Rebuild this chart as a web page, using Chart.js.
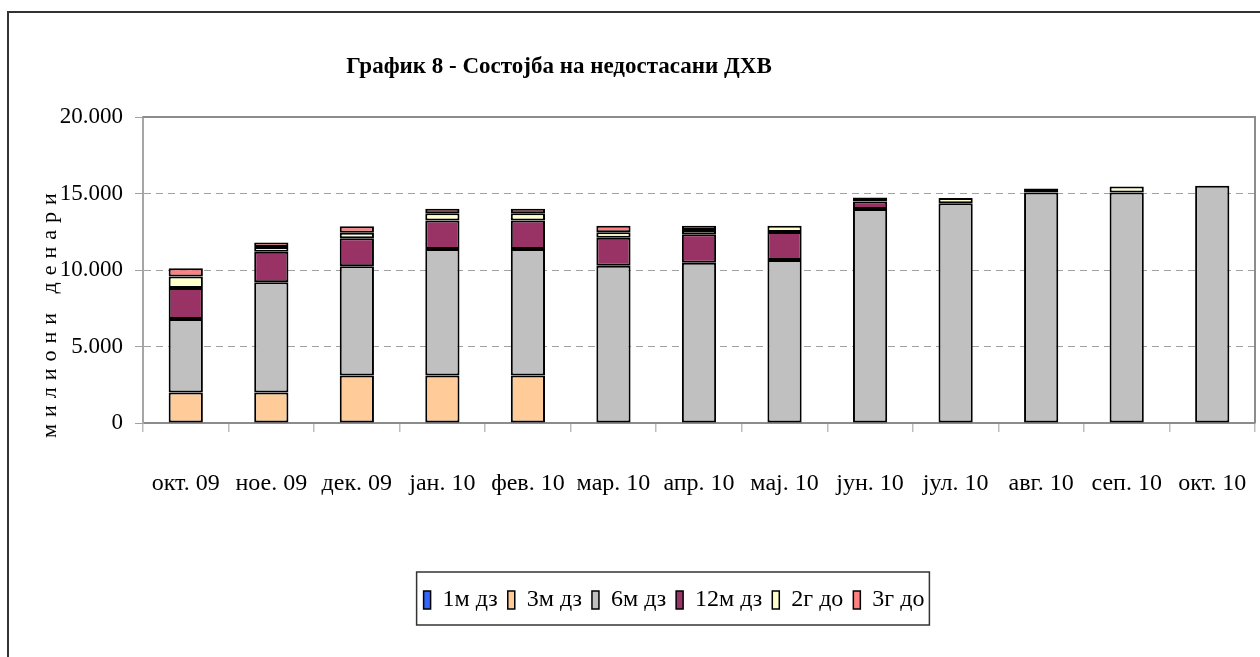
<!DOCTYPE html>
<html>
<head>
<meta charset="utf-8">
<script src="https://cdn.jsdelivr.net/npm/chart.js@4.4.1/dist/chart.umd.min.js"></script>
<style>
  html, body { margin: 0; padding: 0; background: #fff; }
  #wrap { position: relative; width: 1260px; height: 657px; }
</style>
</head>
<body>
<div id="wrap"><canvas id="c" width="1260" height="657"></canvas></div>
<script>
const categories = ['окт. 09','ное. 09','дек. 09','јан. 10','фев. 10','мар. 10','апр. 10','мај. 10','јун. 10','јул. 10','авг. 10','сеп. 10','окт. 10'];
const m1 = [0,0,0,0,0,0,0,0,0,0,0,0,0];
const m3 = [2000,2000,3100,3100,3100,0,0,0,0,0,0,0,0];
const m6 = [4800,7200,7150,8280,8280,10280,10480,10660,13980,14370,15060,15060,15500];
const m12 = [2030,2000,1830,1850,1850,1830,1860,1830,490,0,0,0,0];
const g2 = [740,300,350,480,480,350,280,410,0,330,0,390,0];
const g3 = [550,300,430,290,290,430,280,0,270,0,260,0,0];
const seriesNames = ['1м дз','3м дз','6м дз','12м дз','2г до','3г до'];
const yTicks = [0,5000,10000,15000,20000];
const titleText = 'График 8 - Состојба на недостасани ДХВ';
const yTitle = 'милиони денари';

const colors = ['#3366FF','#FFCC99','#C0C0C0','#993366','#FFFFCC','#FF8080'];
const seriesData = [m1,m3,m6,m12,g2,g3];

const fmt = v => v === 0 ? '0' : v.toLocaleString('de-DE');

const decor = {
  id: 'decor',
  beforeDraw(chart) {
    const ctx = chart.ctx;
    ctx.save();
    ctx.fillStyle = '#fff';
    ctx.fillRect(0,0,chart.width,chart.height);
    ctx.restore();
  },
  afterDraw(chart) {
    const ctx = chart.ctx;
    const a = chart.chartArea;
    ctx.save();
    // outer frame
    ctx.strokeStyle = '#333';
    ctx.lineWidth = 2;
    ctx.beginPath();
    ctx.moveTo(8, 700);
    ctx.lineTo(8, 12);
    ctx.lineTo(1262, 12);
    ctx.stroke();
    // plot border (top and right)
    ctx.strokeStyle = '#8c8c8c';
    ctx.lineWidth = 2;
    ctx.beginPath();
    ctx.moveTo(a.left, a.top);
    ctx.lineTo(a.right, a.top);
    ctx.lineTo(a.right, a.bottom);
    ctx.stroke();
    // title
    ctx.fillStyle = '#000';
    ctx.font = 'bold 23px "Liberation Serif"';
    ctx.textAlign = 'center';
    ctx.textBaseline = 'alphabetic';
    ctx.fillText(titleText, 559, 73);
    // y axis title
    ctx.translate(50, 312);
    ctx.rotate(-Math.PI/2);
    ctx.font = '22px "Liberation Serif"';
    try { ctx.letterSpacing = '7px'; } catch(e) {}
    ctx.textAlign = 'center';
    ctx.textBaseline = 'middle';
    ctx.fillText(yTitle, 0, 0);
    ctx.restore();
    // legend box
    const lg = chart.legend;
    if (lg && lg.legendHitBoxes && lg.legendHitBoxes.length) {
      let l = Infinity, r = -Infinity;
      lg.legendHitBoxes.forEach(h => { l = Math.min(l, h.left); r = Math.max(r, h.left + h.width); });
      ctx.save();
      ctx.strokeStyle = '#333';
      ctx.lineWidth = 1.5;
      ctx.strokeRect(l - 7, lg.top - 6, (r - l) + 12, lg.height + 9);
      ctx.restore();
    }
  }
};

new Chart(document.getElementById('c'), {
  type: 'bar',
  data: {
    labels: categories,
    datasets: seriesNames.map((n, i) => ({
      label: n,
      data: seriesData[i],
      backgroundColor: colors[i],
      borderColor: '#000',
      borderWidth: 2,
      borderSkipped: false,
      barPercentage: 0.4,
      categoryPercentage: 1.0
    }))
  },
  options: {
    responsive: false,
    animation: false,
    devicePixelRatio: 1,
    layout: { padding: { left: 93, right: 5, top: 117, bottom: 35 } },
    plugins: {
      title: { display: false },
      tooltip: { enabled: false },
      legend: {
        position: 'bottom',
        labels: {
          font: { family: '"Liberation Serif"', size: 24 },
          color: '#000',
          boxWidth: 7,
          boxHeight: 18,
          padding: 10,
          generateLabels(chart) {
            return chart.data.datasets.map((d, i) => ({
              text: d.label,
              fillStyle: d.backgroundColor,
              strokeStyle: '#000',
              lineWidth: 1.5,
              hidden: false,
              datasetIndex: i,
              fontColor: '#000'
            }));
          }
        }
      }
    },
    scales: {
      x: {
        stacked: true,
        offset: true,
        afterFit(s) { s.height = 155; s.paddingLeft = 0; s.paddingRight = 0; },
        grid: { drawOnChartArea: false, drawTicks: true, tickLength: 9, color: '#bdbdbd', offset: true, lineWidth: 1.5 },
        border: { display: true, color: '#8c8c8c', width: 2 },
        ticks: { font: { family: '"Liberation Serif"', size: 24 }, color: '#000', padding: 37, maxRotation: 0, autoSkip: false }
      },
      y: {
        stacked: true,
        min: 0,
        max: 20000,
        afterFit(s) { s.width = 50; s._computeLabelArea = function() { return undefined; }; },
        afterBuildTicks(s) { s.ticks = yTicks.map(v => ({ value: v })); },
        grid: { color: '#a0a0a0', lineWidth: 1, tickLength: 8, tickColor: '#a0a0a0', tickBorderDash: [] },
        border: { display: true, color: '#a6a6a6', width: 2, dash: [7,5] },
        ticks: { font: { family: '"Liberation Serif"', size: 23 }, color: '#000', padding: 12, callback: v => fmt(v) }
      }
    }
  },
  plugins: [decor]
});
</script>
</body>
</html>
